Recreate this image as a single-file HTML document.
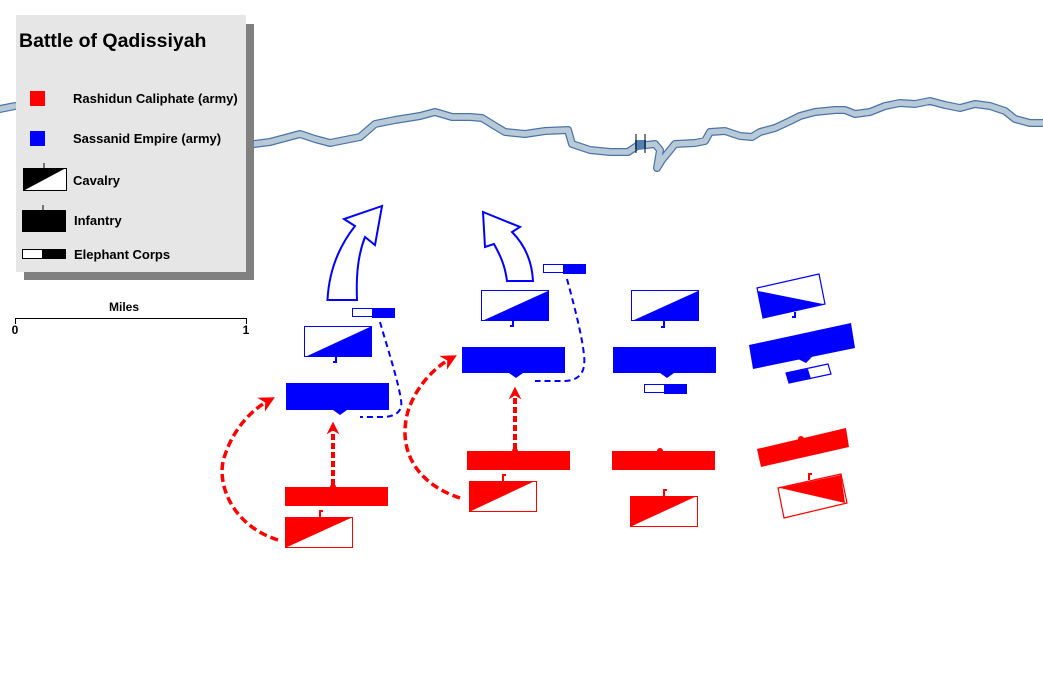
<!DOCTYPE html>
<html><head><meta charset="utf-8"><style>
html,body{margin:0;padding:0;background:#fff;}
svg{display:block;font-family:"Liberation Sans",Arial,sans-serif;}
</style></head><body>
<svg width="1043" height="699" viewBox="0 0 1043 699" xmlns="http://www.w3.org/2000/svg">
<defs>
<marker id="ra" viewBox="0 0 10 10" refX="5" refY="5" markerWidth="3.2" markerHeight="3.2" orient="auto"><path d="M0,0 L10,5 L0,10 L3,5 Z" fill="#f00"/></marker>
<marker id="rb" viewBox="0 0 10 10" refX="5" refY="5" markerWidth="4.5" markerHeight="4.5" orient="auto"><path d="M0,0 L10,5 L0,10 L3,5 Z" fill="#f00"/></marker>
</defs>
<!-- river -->
<g fill="none" stroke-linejoin="round" stroke-linecap="round">
<path d="M0,109 L15,106 M240,150 L254,144 L270,142 L285,138 L300,134 L315,139 L330,143 L345,140 L360,137 L375,124 L395,120 L420,116 L435,112 L452,117 L470,117 L482,118 L495,126 L505,132 L525,134 L545,131 L568,130 L572,144 L590,150 L610,152 L628,152 L637,146 L655,144 L660,150 L657,168 L662,160 L675,144 L695,143 L705,141 L710,132 L725,131 L740,136 L752,137 L760,132 L775,128 L790,121 L800,116 L815,112 L835,110 L845,110 L855,114 L870,112 L885,106 L900,103 L915,104 L930,101 L945,105 L960,108 L975,104 L990,106 L1005,111 L1015,119 L1030,123 L1043,123" stroke="#4a74a8" stroke-width="8"/>
<path d="M0,109 L15,106 M240,150 L254,144 L270,142 L285,138 L300,134 L315,139 L330,143 L345,140 L360,137 L375,124 L395,120 L420,116 L435,112 L452,117 L470,117 L482,118 L495,126 L505,132 L525,134 L545,131 L568,130 L572,144 L590,150 L610,152 L628,152 L637,146 L655,144 L660,150 L657,168 L662,160 L675,144 L695,143 L705,141 L710,132 L725,131 L740,136 L752,137 L760,132 L775,128 L790,121 L800,116 L815,112 L835,110 L845,110 L855,114 L870,112 L885,106 L900,103 L915,104 L930,101 L945,105 L960,108 L975,104 L990,106 L1005,111 L1015,119 L1030,123 L1043,123" stroke="#b8cad8" stroke-width="5.5"/>
</g>
<rect x="635" y="140" width="11" height="9" fill="#5080b4"/>
<line x1="636" y1="134" x2="636" y2="153" stroke="#000" stroke-width="1"/>
<line x1="645" y1="134" x2="645" y2="153" stroke="#000" stroke-width="1"/>

<!-- legend -->
<rect x="24" y="24" width="230" height="256" fill="#808080"/>
<rect x="16" y="15" width="230" height="257" fill="#e6e6e6"/>
<text x="19" y="47" font-size="19.5" font-weight="bold">Battle of Qadissiyah</text>
<rect x="30" y="91" width="15" height="15" fill="#f00"/>
<text x="73" y="103" font-size="13" font-weight="bold">Rashidun Caliphate (army)</text>
<rect x="30" y="131" width="15" height="15" fill="#00f"/>
<text x="73" y="143" font-size="13" font-weight="bold">Sassanid Empire (army)</text>
<rect x="23.5" y="168.5" width="43" height="22" fill="#fff" stroke="#000"/>
<polygon points="23,168 66,168 23,191" fill="#000"/>
<line x1="44" y1="163" x2="44" y2="168" stroke="#000"/>
<text x="73" y="185" font-size="13" font-weight="bold">Cavalry</text>
<rect x="22" y="210" width="44" height="22" fill="#000"/>
<line x1="43" y1="205" x2="43" y2="210" stroke="#000"/>
<text x="74" y="225" font-size="13" font-weight="bold">Infantry</text>
<rect x="22.5" y="249.5" width="20" height="9" fill="#fff" stroke="#000"/>
<rect x="42" y="249" width="24" height="10" fill="#000"/>
<text x="74" y="259" font-size="13" font-weight="bold">Elephant Corps</text>

<!-- scale -->
<text x="124" y="311" font-size="12" font-weight="bold" text-anchor="middle">Miles</text>
<path d="M15.5,324 V318.5 H246.5 V324" fill="none" stroke="#000"/>
<text x="15" y="334" font-size="12" font-weight="bold" text-anchor="middle">0</text>
<text x="246" y="334" font-size="12" font-weight="bold" text-anchor="middle">1</text>

<!-- Unit 1 -->
<path d="M327.5,300 L357,300 C356,275 358,255 365,237 L375,245 L382,206 L344,219 L355,226 C340,245 329,270 327.5,300 Z" fill="#fff" stroke="#00f" stroke-width="2"/>
<rect x="352.5" y="308.5" width="20" height="8" fill="#fff" stroke="#00f"/>
<rect x="372" y="308" width="23" height="10" fill="#00f"/>
<rect x="304.5" y="326.5" width="67" height="30" fill="#fff" stroke="#00f"/>
<polygon points="305,357 372,326 372,357" fill="#00f"/>
<path d="M336,357 V362 H333" stroke="#00f" stroke-width="2" fill="none"/>
<rect x="286" y="383" width="103" height="27" fill="#00f"/>
<polygon points="333,410 347,410 340,415" fill="#00f"/>
<path d="M380,322 C388,350 398,380 401,400 C403,412 395,416 385,417 L360,417" fill="none" stroke="#00f" stroke-width="2" stroke-dasharray="6,4"/>
<rect x="285" y="487" width="103" height="19" fill="#f00"/>
<circle cx="333" cy="487" r="3" fill="#f00"/>
<rect x="285.5" y="517.5" width="67" height="30" fill="#fff" stroke="#f00"/>
<polygon points="285,517 353,517 285,548" fill="#f00"/>
<path d="M320,517 V511 H323" stroke="#f00" stroke-width="2" fill="none"/>
<line x1="333" y1="485" x2="333" y2="428" stroke="#f00" stroke-width="4" stroke-dasharray="6,3" marker-end="url(#ra)"/>
<path d="M278,540 C230,525 215,480 225,455 C235,425 255,408 268,401" fill="none" stroke="#f00" stroke-width="3.5" stroke-dasharray="8,4" marker-end="url(#rb)"/>

<!-- Unit 2 -->
<path d="M533,281 L507,281 C505,265 500,255 494,244 L485,247 L483,212 L520,227 L512,232 C525,245 532,262 533,281 Z" fill="#fff" stroke="#00f" stroke-width="2"/>
<rect x="543.5" y="264.5" width="20" height="8" fill="#fff" stroke="#00f"/>
<rect x="563" y="264" width="23" height="10" fill="#00f"/>
<rect x="481.5" y="290.5" width="67" height="30" fill="#fff" stroke="#00f"/>
<polygon points="482,321 548,291 548,321" fill="#00f"/>
<path d="M513,321 V326 H510" stroke="#00f" stroke-width="2" fill="none"/>
<rect x="462" y="347" width="103" height="26" fill="#00f"/>
<polygon points="509,373 523,373 516,378" fill="#00f"/>
<path d="M567,279 C574,305 582,335 584,355 C586,372 580,380 565,381 L535,381" fill="none" stroke="#00f" stroke-width="2" stroke-dasharray="6,4"/>
<rect x="467" y="451" width="103" height="19" fill="#f00"/>
<circle cx="515" cy="451" r="3" fill="#f00"/>
<rect x="469.5" y="481.5" width="67" height="30" fill="#fff" stroke="#f00"/>
<polygon points="469,481 535,481 469,512" fill="#f00"/>
<path d="M503,481 V475 H506" stroke="#f00" stroke-width="2" fill="none"/>
<line x1="515" y1="449" x2="515" y2="393" stroke="#f00" stroke-width="4" stroke-dasharray="6,3" marker-end="url(#ra)"/>
<path d="M460,498 C420,485 400,455 406,420 C410,395 430,370 450,359" fill="none" stroke="#f00" stroke-width="3.5" stroke-dasharray="8,4" marker-end="url(#rb)"/>

<!-- Unit 3 -->
<rect x="631.5" y="290.5" width="67" height="30" fill="#fff" stroke="#00f"/>
<polygon points="632,321 698,291 698,321" fill="#00f"/>
<path d="M664,321 V327 H661" stroke="#00f" stroke-width="2" fill="none"/>
<rect x="613" y="347" width="103" height="26" fill="#00f"/>
<polygon points="660,373 674,373 667,378" fill="#00f"/>
<rect x="644.5" y="384.5" width="20" height="8" fill="#fff" stroke="#00f"/>
<rect x="664" y="384" width="23" height="10" fill="#00f"/>
<rect x="612" y="451" width="103" height="19" fill="#f00"/>
<circle cx="660" cy="451" r="3" fill="#f00"/>
<rect x="630.5" y="496.5" width="67" height="30" fill="#fff" stroke="#f00"/>
<polygon points="630,496 697,496 630,527" fill="#f00"/>
<path d="M664,496 V490 H667" stroke="#f00" stroke-width="2" fill="none"/>

<!-- Unit 4 -->
<polygon points="757,288 819,274 825,304 763,318" fill="#fff" stroke="#00f" stroke-width="1.2"/>
<polygon points="758,291 823,304 763,318" fill="#00f"/>
<path d="M795,312 V317 H792" stroke="#00f" stroke-width="2" fill="none"/>
<polygon points="749,345 851,323 855,348 753,369" fill="#00f"/>
<polygon points="798,359 812,357 806,363" fill="#00f"/>
<polygon points="786,373 828,364 831,374 789,383" fill="#fff" stroke="#00f" stroke-width="1.2"/>
<polygon points="786,373 808,369 811,379 789,383" fill="#00f"/>
<polygon points="757,449 846,428 849,447 761,467" fill="#f00"/>
<circle cx="801" cy="439" r="3" fill="#f00"/>
<polygon points="778,488 841,474 847,503 784,518" fill="#fff" stroke="#f00" stroke-width="1.2"/>
<polygon points="780,488 841,475 845,503" fill="#f00"/>
<path d="M809,480 V474 H812" stroke="#f00" stroke-width="2" fill="none"/>
</svg>
</body></html>
